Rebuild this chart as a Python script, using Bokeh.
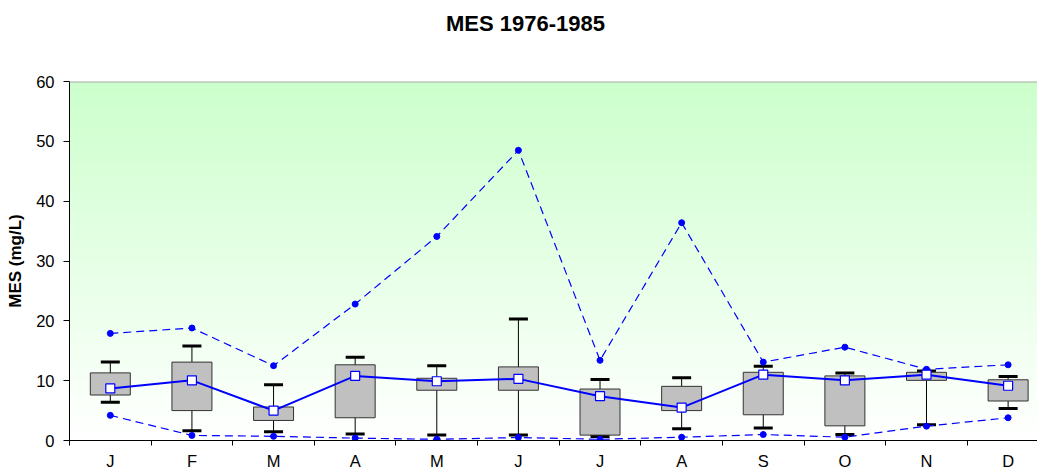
import numpy as np
from bokeh.plotting import figure
from bokeh.layouts import column
from bokeh.models import Range1d, FixedTicker, Whisker, TeeHead, ColumnDataSource, Span
from bokeh.core.properties import value
from bokeh.embed import file_html
from bokeh.resources import INLINE

# ---- data (mg/L) ----
months = ["J", "F", "M", "A", "M", "J", "J", "A", "S", "O", "N", "D"]
max_vals = [17.9, 18.8, 12.5, 22.8, 34.1, 48.5, 13.4, 36.4, 13.1, 15.6, 11.9, 12.65]
whisker_high = [13.1, 15.8, 9.3, 13.9, 12.5, 20.3, 10.2, 10.5, 12.4, 11.3, 11.6, 10.7]
q3_vals = [11.3, 13.1, 5.6, 12.65, 10.4, 12.3, 8.6, 9.05, 11.4, 10.8, 11.4, 10.15]
mean_vals = [8.7, 10.05, 5.0, 10.8, 9.9, 10.3, 7.4, 5.5, 11.0, 10.05, 11.0, 9.15]
q1_vals = [7.6, 5.0, 3.35, 3.8, 8.4, 8.4, 0.9, 5.0, 4.3, 2.45, 10.05, 6.6]
whisker_low = [6.4, 1.65, 1.45, 1.1, 0.9, 0.9, 0.65, 1.95, 2.1, 1.0, 2.65, 5.35]
min_vals = [4.2, 0.85, 0.7, 0.4, 0.2, 0.5, 0.2, 0.55, 1.0, 0.55, 2.4, 3.8]
y_ticks = [0, 10, 20, 30, 40, 50, 60]
title_text = "MES 1976-1985"
y_label = "MES (mg/L)"

x = list(range(len(months)))
src = ColumnDataSource(dict(x=x, maxv=max_vals, whi=whisker_high, q3=q3_vals,
                            mean=mean_vals, q1=q1_vals, wlo=whisker_low, minv=min_vals))

FONT = "Liberation Sans"
BLUE = "#0000ff"
W = 1037
TITLE_H = 40
FRAME_LEFT = 69

# ---- title strip (pixel-based ranges; its frame is aligned with the chart's frame) ----
tp = figure(width=W, height=TITLE_H, output_backend="svg", toolbar_location=None,
            x_range=Range1d(FRAME_LEFT, W), y_range=Range1d(TITLE_H, 0),
            min_border=0, background_fill_color="white", border_fill_color="white")
tp.axis.visible = False
tp.grid.visible = False
tp.outline_line_color = None
tp.text(x=[525], y=[23.3], text=[title_text], text_align="center", text_baseline="middle",
        text_font=value(FONT), text_font_size="22px", text_font_style="bold",
        text_color="black")

# ---- main chart ----
p = figure(width=W, height=472 - TITLE_H, output_backend="svg", toolbar_location=None,
           x_range=Range1d(-0.5, 11.36), y_range=Range1d(0, 60),
           min_border_left=FRAME_LEFT, min_border_right=0, min_border_top=81 - TITLE_H,
           min_border_bottom=31,
           background_fill_color="white", border_fill_color="white")

# background gradient (style only)
n = 256
t = np.linspace(0.0, 1.0, n)
img = np.empty((n, 1), dtype=np.uint32)
view = img.view(dtype=np.uint8).reshape((n, 1, 4))
rb = np.round(255 + (204 - 255) * t).astype(np.uint8)
view[:, 0, 0] = rb
view[:, 0, 1] = 255
view[:, 0, 2] = rb
view[:, 0, 3] = 255
p.image_rgba(image=[img], x=-0.5, y=0, dw=12.5, dh=60, level="image")

# whiskers
p.add_layout(Whisker(source=src, base="x", upper="whi", lower="wlo",
                     line_color="black", line_width=1, level="underlay",
                     upper_head=TeeHead(size=19, line_width=3, line_color="black"),
                     lower_head=TeeHead(size=19, line_width=3, line_color="black")))

# boxes
p.vbar(x="x", width=0.49, bottom="q1", top="q3", source=src,
       fill_color="#c0c0c0", line_color="#333333", line_width=1)

# max / min dashed lines
for col in ("maxv", "minv"):
    p.line("x", col, source=src, line_color=BLUE, line_width=1.2, line_dash="8 5")
    p.scatter("x", col, source=src, size=6, fill_color=BLUE, line_color=BLUE)

# mean
p.line("x", "mean", source=src, line_color=BLUE, line_width=2)
p.scatter("x", "mean", source=src, marker="square", size=9,
          fill_color="white", line_color=BLUE, line_width=1.2)

# top frame line
p.add_layout(Span(location=60, dimension="width", line_color="#aaaaaa", line_width=2))

p.xgrid.visible = False
p.ygrid.visible = False
p.outline_line_color = None

# x axis
xa = p.xaxis[0]
xa.ticker = FixedTicker(ticks=x, minor_ticks=[i - 0.5 for i in range(len(months) + 1)])
xa.major_label_overrides = {i: m for i, m in enumerate(months)}
xa.major_tick_out = 0
xa.major_tick_in = 0
xa.minor_tick_out = 5
xa.minor_tick_in = 0
xa.minor_tick_line_color = "black"
xa.axis_line_color = "black"
xa.major_label_text_font = FONT
xa.major_label_text_font_size = "16.5px"
xa.major_label_text_color = "black"
xa.major_label_standoff = 6

# y axis
ya = p.yaxis[0]
ya.ticker = FixedTicker(ticks=y_ticks, minor_ticks=[])
ya.major_tick_out = 6
ya.major_tick_in = 0
ya.minor_tick_line_color = None
ya.axis_line_color = "black"
ya.major_tick_line_color = "black"
ya.major_label_text_font = FONT
ya.major_label_text_font_size = "16.5px"
ya.major_label_text_color = "black"
ya.major_label_standoff = 9
ya.axis_label = y_label
ya.axis_label_text_font = FONT
ya.axis_label_text_font_size = "17px"
ya.axis_label_text_font_style = "bold"
ya.axis_label_text_color = "black"
ya.axis_label_standoff = 8

layout = column(tp, p, spacing=0)
open("out.html", "w").write(file_html(layout, INLINE))
